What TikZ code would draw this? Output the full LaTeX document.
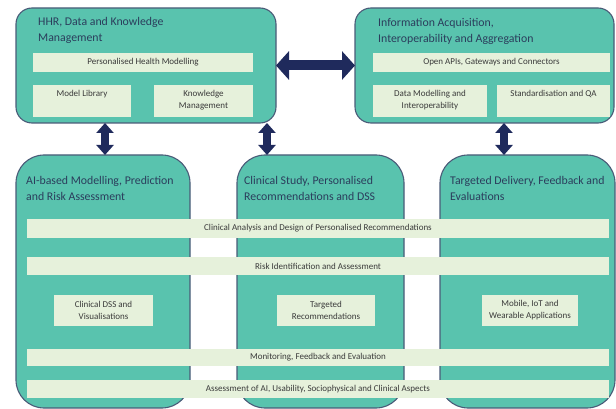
\documentclass[tikz,border=0pt]{standalone}
\usepackage{fontspec}
\setmainfont{Carlito}
\usetikzlibrary{arrows.meta}
\definecolor{tealbox}{HTML}{59C3AE}
\definecolor{borderc}{HTML}{4A5B78}
\definecolor{inboxc}{HTML}{E6F1DB}
\definecolor{titlec}{HTML}{2B3D5C}
\definecolor{intext}{HTML}{3A3A3A}
\definecolor{arrowc}{HTML}{1F2A5C}
\begin{document}
\begin{tikzpicture}[x=1pt,y=-1pt,
  bigbox/.style={draw=borderc, line width=1.1pt, fill=tealbox, inner sep=0pt, outer sep=0pt},
  topbox/.style={bigbox, rounded corners=16pt},
  botbox/.style={bigbox, rounded corners=28pt},
  inbox/.style={fill=inboxc, inner sep=0pt, outer sep=0pt, font=\fontsize{9}{12}\selectfont, text=intext, align=center},
  intxt/.style={inner sep=0pt, anchor=north, font=\fontsize{9}{12}\selectfont, text=intext, align=center},
  boxtitle/.style={font=\fontsize{11.8}{16}\selectfont, text=titlec, align=left, anchor=west, inner sep=0pt},
  harrow/.style={draw=arrowc, line width=10pt, {Triangle[width=28pt,length=13pt]}-{Triangle[width=28pt,length=13pt]}},
  varrow/.style={draw=arrowc, line width=8pt, {Triangle[width=17pt,length=10pt]}-{Triangle[width=17pt,length=10pt]}}]
\useasboundingbox (0,0) rectangle (616,409);

% top boxes
\node[topbox, minimum width=260pt, minimum height=115pt] (tl) at (146,65.5) {};
\node[topbox, minimum width=259pt, minimum height=115pt] (tr) at (484.5,65.5) {};
\node[boxtitle] (tlt) at (38,30) {HHR, Data and Knowledge\\Management};
\node[boxtitle] (trt) at (378,31) {Information Acquisition,\\Interoperability and Aggregation};

\node[inbox, minimum width=220pt, minimum height=19pt] (phm) at (143,62.5) {Personalised Health Modelling};
\node[inbox, minimum width=98pt, minimum height=32pt] (ml) at (82,101) {};
\node[inbox, minimum width=99pt, minimum height=32pt] (km) at (203.5,101) {};
\node[intxt] (mlt) at ([yshift=-5.5pt]ml.north) {Model Library};
\node[intxt] (kmt) at ([yshift=-5.5pt]km.north) {Knowledge\\Management};

\node[inbox, minimum width=237pt, minimum height=19pt] (oapi) at (491.5,62.5) {Open APIs, Gateways and Connectors};
\node[inbox, minimum width=114pt, minimum height=32pt] (dmi) at (430,101) {};
\node[inbox, minimum width=113pt, minimum height=32pt] (sqa) at (553.5,101) {};
\node[intxt] (dmit) at ([yshift=-5.5pt]dmi.north) {Data Modelling and\\Interoperability};
\node[intxt] (sqat) at ([yshift=-5.5pt]sqa.north) {Standardisation and QA};

% bottom boxes
\node[botbox, minimum width=174pt, minimum height=253pt] (bl) at (103,281.5) {};
\node[botbox, minimum width=167pt, minimum height=253pt] (bm) at (320.5,281.5) {};
\node[botbox, minimum width=175pt, minimum height=253pt] (br) at (527.5,281.5) {};
\node[boxtitle] (blt) at (26,188) {AI-based Modelling, Prediction\\and Risk Assessment};
\node[boxtitle] (bmt) at (244,188) {Clinical Study, Personalised\\Recommendations and DSS};
\node[boxtitle] (brt) at (450,188) {Targeted Delivery, Feedback and\\Evaluations};

% strips
\node[inbox, minimum width=582pt, minimum height=19pt] (s1) at (318,228.5) {Clinical Analysis and Design of Personalised Recommendations};
\node[inbox, minimum width=582pt, minimum height=18pt] (s2) at (318,266) {Risk Identification and Assessment};
\node[inbox, minimum width=582pt, minimum height=17pt] (s3) at (318,357.5) {Monitoring, Feedback and Evaluation};
\node[inbox, minimum width=582pt, minimum height=18pt] (s4) at (318,389) {Assessment of AI, Usability, Sociophysical and Clinical Aspects};

% small boxes
\node[inbox, minimum width=99pt, minimum height=31pt] (cdss) at (103.5,310.5) {Clinical DSS and\\Visualisations};
\node[inbox, minimum width=98pt, minimum height=31pt] (trec) at (326,310.5) {Targeted\\Recommendations};
\node[inbox, minimum width=96pt, minimum height=31pt] (mob) at (530,310.5) {Mobile, IoT and\\Wearable Applications};

% arrows
\draw[harrow] (tl.east) -- (tr.west);
\draw[varrow] (105,0 |- tl.south) -- (105,0 |- bl.north);
\draw[varrow] (267,0 |- tl.south) -- (267,0 |- bm.north);
\draw[varrow] (504,0 |- tr.south) -- (504,0 |- br.north);
\end{tikzpicture}
\end{document}
